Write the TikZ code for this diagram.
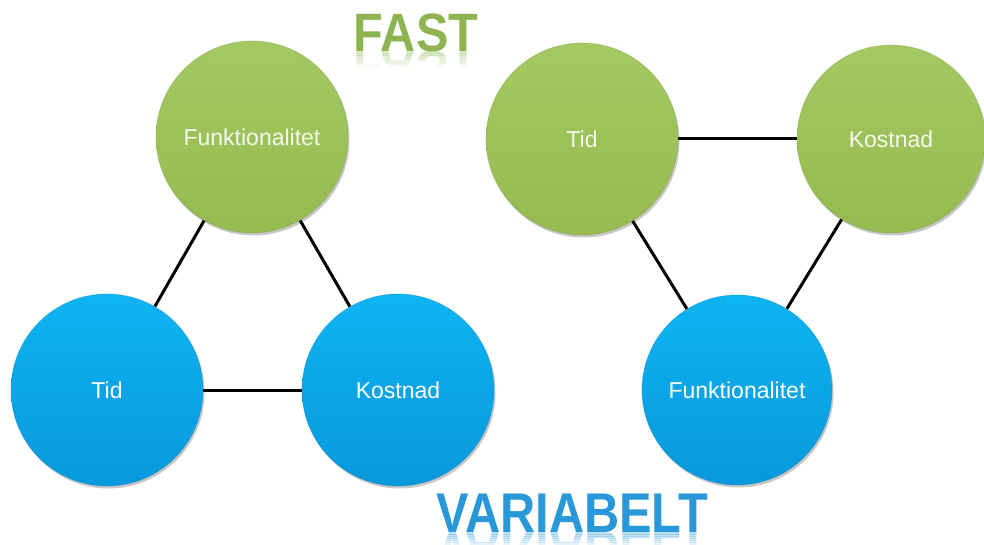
\documentclass[tikz,border=0pt]{standalone}
\usepackage{fontspec}
\setmainfont{Liberation Sans}
\usetikzlibrary{shadows}
\definecolor{grnTop}{RGB}{164,201,98}
\definecolor{grnBot}{RGB}{148,186,80}
\definecolor{bluTop}{RGB}{14,180,243}
\definecolor{bluBot}{RGB}{8,152,220}
\definecolor{grnText}{RGB}{142,180,82}
\definecolor{bluText}{RGB}{40,152,216}
\definecolor{lblGrn}{RGB}{246,250,236}
\tikzset{
  ball/.style={circle, minimum size=192pt, inner sep=0pt,
    font=\fontsize{23}{27}\selectfont,
    drop shadow={shadow xshift=1.5pt, shadow yshift=-2.5pt, opacity=0.22, fill=black}},
  greenball/.style={ball, top color=grnTop, bottom color=grnBot,
    draw=grnBot!85!black, draw opacity=0.35, line width=0.8pt, text=lblGrn},
  blueball/.style={ball, top color=bluTop, bottom color=bluBot,
    draw=bluBot!85!black, draw opacity=0.35, line width=0.8pt, text=white},
  link/.style={line width=3pt, black},
  fasttxt/.style={font=\fontsize{54}{60}\selectfont\bfseries, text=grnText,
    inner sep=0pt, anchor=base, xscale=0.9},
  vartxt/.style={font=\fontsize{56}{62}\selectfont\bfseries, text=bluText,
    inner sep=0pt, anchor=base, xscale=0.87}
}
\begin{document}
\begin{tikzpicture}[x=1pt, y=-1pt]
  \useasboundingbox (0,0) rectangle (984,545);

  % left triangle: functionality fixed
  \node[greenball] (lf) at (252,137) {Funktionalitet};
  \node[blueball]  (lt) at (107,390) {Tid};
  \node[blueball]  (lk) at (398,390) {Kostnad};

  % right triangle: time and cost fixed
  \node[greenball] (rt) at (582,139) {Tid};
  \node[greenball, minimum size=188pt] (rk) at (891,139) {Kostnad};
  \node[blueball, minimum size=190pt]  (rf) at (737,390) {Funktionalitet};

  \draw[link] (lf) -- (lt);
  \draw[link] (lf) -- (lk);
  \draw[link] (lt) -- (lk);
  \draw[link] (rt) -- (rk);
  \draw[link] (rt) -- (rf);
  \draw[link] (rk) -- (rf);

  % headings with a fading mirror image below the baseline
  \node[fasttxt] (fast) at (416,52) {FAST};
  \foreach \i in {0,...,7} {
    \pgfmathsetmacro\op{0.3*(1-\i/8)}
    \begin{scope}
      \clip (330,52+\i*2) rectangle (500,54+\i*2);
      \node[fasttxt, yscale=-1, opacity=\op] at (416,52) {FAST};
    \end{scope}
  }
  \node[vartxt] (var) at (572,532) {VARIABELT};
  \foreach \i in {0,...,5} {
    \pgfmathsetmacro\op{0.3*(1-\i/8)}
    \begin{scope}
      \clip (400,532+\i*2) rectangle (740,534+\i*2);
      \node[vartxt, yscale=-1, opacity=\op] at (572,532) {VARIABELT};
    \end{scope}
  }
\end{tikzpicture}
\end{document}
